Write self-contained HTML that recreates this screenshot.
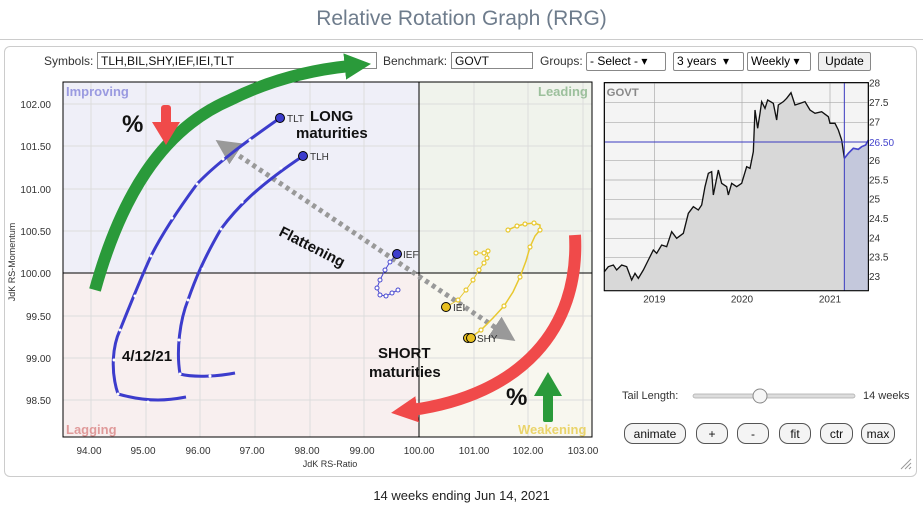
<!DOCTYPE html>
<html><head><meta charset="utf-8"><style>
body{margin:0;width:923px;height:508px;background:#fff;font-family:"Liberation Sans",Arial,sans-serif;position:relative;overflow:hidden}
.a{position:absolute}
.inp{position:absolute;border:1px solid #888;background:#fff;font-size:12px;height:17px;line-height:17px;padding-left:3px;box-sizing:border-box;color:#111}
.sel{position:absolute;border:1px solid #888;background:#fff;font-size:12px;height:19px;line-height:17px;padding-left:3px;box-sizing:border-box;border-radius:2px}
.lbl{position:absolute;font-size:12px;color:#333}
.btn{position:absolute;top:423px;height:21px;border:1px solid #555;border-radius:9px;background:#f4f4f4;font-size:12px;text-align:center;line-height:20px;box-sizing:border-box;color:#111}
</style></head><body>
<div class="a" style="left:0;top:0;width:923px;height:40px;text-align:center;font-size:21px;color:#6e7c8c;line-height:38px">Relative Rotation Graph (RRG)</div>
<div class="a" style="left:0;top:39px;width:923px;height:1px;background:#ccc"></div>
<div class="a" style="left:4px;top:46px;width:911px;height:429px;border:1px solid #ccc;border-radius:6px;background:#fff"></div>
<div class="lbl" style="left:44px;top:54px">Symbols:</div>
<div class="inp" style="left:97px;top:52px;width:280px">TLH,BIL,SHY,IEF,IEI,TLT</div>
<div class="lbl" style="left:383px;top:54px">Benchmark:</div>
<div class="inp" style="left:451px;top:52px;width:82px">GOVT</div>
<div class="lbl" style="left:540px;top:54px">Groups:</div>
<div class="sel" style="left:586px;top:52px;width:80px">- Select - ▾</div>
<div class="sel" style="left:673px;top:52px;width:71px">3 years &nbsp;▾</div>
<div class="sel" style="left:747px;top:52px;width:64px">Weekly ▾</div>
<div class="sel" style="left:818px;top:52px;width:53px;text-align:center;background:#f0f0f0;padding:0">Update</div>
<div class="lbl" style="left:622px;top:390px;font-size:11px">Tail Length:</div>
<div class="lbl" style="left:863px;top:390px;font-size:11px">14 weeks</div>
<div class="btn" style="left:624px;width:62px">animate</div>
<div class="btn" style="left:696px;width:32px">+</div>
<div class="btn" style="left:737px;width:32px">-</div>
<div class="btn" style="left:779px;width:32px">fit</div>
<div class="btn" style="left:820px;width:33px">ctr</div>
<div class="btn" style="left:861px;width:34px">max</div>
<div class="a" style="left:0;top:488px;width:923px;text-align:center;font-size:13px;color:#222">14 weeks ending Jun 14, 2021</div>

<svg class="a" style="left:0;top:0" width="923" height="508" font-family="Liberation Sans, Arial, sans-serif">
<defs>
<marker id="gh" viewBox="0 0 10 10" refX="2" refY="5" markerWidth="2.2" markerHeight="2.6" orient="auto"><path d="M0,0L10,5L0,10z" fill="#2a9a3a"/></marker>
<marker id="rh" viewBox="0 0 10 10" refX="2" refY="5" markerWidth="2.2" markerHeight="2.6" orient="auto"><path d="M0,0L10,5L0,10z" fill="#f04a4a"/></marker>
<marker id="ah" viewBox="0 0 10 10" refX="5" refY="5" markerWidth="5" markerHeight="5" orient="auto"><path d="M0,0L10,5L0,10z" fill="#999"/></marker>
<marker id="ah2" viewBox="0 0 10 10" refX="5" refY="5" markerWidth="5" markerHeight="5" orient="auto-start-reverse"><path d="M0,0L10,5L0,10z" fill="#999"/></marker>
</defs>
<rect x="63" y="82" width="356" height="191" fill="#efeff8"/>
<rect x="419" y="82" width="173" height="191" fill="#f0f3ec"/>
<rect x="63" y="273" width="356" height="164" fill="#f8efef"/>
<rect x="419" y="273" width="173" height="164" fill="#f8f7ef"/>
<g stroke="#dcdcdc" stroke-width="1">
<line x1="91" y1="82" x2="91" y2="437"/><line x1="146" y1="82" x2="146" y2="437"/><line x1="200" y1="82" x2="200" y2="437"/><line x1="255" y1="82" x2="255" y2="437"/><line x1="310" y1="82" x2="310" y2="437"/><line x1="364" y1="82" x2="364" y2="437"/><line x1="474" y1="82" x2="474" y2="437"/><line x1="528" y1="82" x2="528" y2="437"/><line x1="583" y1="82" x2="583" y2="437"/>
<line x1="63" y1="104" x2="592" y2="104"/><line x1="63" y1="146" x2="592" y2="146"/><line x1="63" y1="189" x2="592" y2="189"/><line x1="63" y1="231" x2="592" y2="231"/><line x1="63" y1="316" x2="592" y2="316"/><line x1="63" y1="358" x2="592" y2="358"/><line x1="63" y1="400" x2="592" y2="400"/>
</g>
<line x1="419" y1="82" x2="419" y2="437" stroke="#000"/>
<line x1="63" y1="273" x2="592" y2="273" stroke="#000"/>
<rect x="63" y="82" width="529" height="355" fill="none" stroke="#000"/>
<g font-size="10" fill="#333" text-anchor="end">
<text x="51" y="108">102.00</text><text x="51" y="150">101.50</text><text x="51" y="193">101.00</text><text x="51" y="235">100.50</text><text x="51" y="277">100.00</text><text x="51" y="320">99.50</text><text x="51" y="362">99.00</text><text x="51" y="404">98.50</text>
</g>
<g font-size="10" fill="#333" text-anchor="middle">
<text x="89" y="454">94.00</text><text x="143" y="454">95.00</text><text x="198" y="454">96.00</text><text x="252" y="454">97.00</text><text x="307" y="454">98.00</text><text x="362" y="454">99.00</text><text x="419" y="454">100.00</text><text x="474" y="454">101.00</text><text x="528" y="454">102.00</text><text x="583" y="454">103.00</text>
<text x="330" y="467" font-size="9">JdK RS-Ratio</text>
</g>
<text transform="translate(15,262) rotate(-90)" font-size="9" fill="#333" text-anchor="middle">JdK RS-Momentum</text>
<g font-size="13" font-weight="bold">
<text x="66" y="96" fill="#9a9ae0">Improving</text>
<text x="538" y="96" fill="#9cc09c">Leading</text>
<text x="66" y="434" fill="#e09a9a">Lagging</text>
<text x="518" y="434" fill="#ead46a">Weakening</text>
</g>
<line x1="226" y1="147" x2="505" y2="334" stroke="#999" stroke-width="5" stroke-dasharray="4,4" marker-start="url(#ah2)" marker-end="url(#ah)"/>
<path fill="none" stroke="#3c3ccc" stroke-width="3" stroke-linejoin="round" d="M186,397 C170,400 150,403 118,394 C110,370 113,345 120,330 C128,310 140,280 151,256 C160,238 172,218 197,184 C215,165 240,146 280,118"/>
<path fill="none" stroke="#3c3ccc" stroke-width="3" stroke-linejoin="round" d="M235,373 C220,376 195,378 180,374 C176,350 180,320 188,300 C195,280 203,260 221,229 C235,210 255,188 303,156"/>
<g fill="#fff">
<circle cx="148" cy="402" r="1.5"/><circle cx="118" cy="394" r="1.5"/><circle cx="114" cy="360" r="1.5"/><circle cx="120" cy="330" r="1.5"/><circle cx="135" cy="296" r="1.5"/><circle cx="151" cy="256" r="1.5"/><circle cx="172" cy="218" r="1.5"/><circle cx="197" cy="184" r="1.5"/><circle cx="223" cy="159" r="1.5"/><circle cx="250" cy="140" r="1.5"/>
<circle cx="210" cy="376" r="1.5"/><circle cx="180" cy="374" r="1.5"/><circle cx="179" cy="340" r="1.5"/><circle cx="188" cy="300" r="1.5"/><circle cx="203" cy="269" r="1.5"/><circle cx="221" cy="229" r="1.5"/><circle cx="242" cy="202" r="1.5"/><circle cx="262" cy="182" r="1.5"/><circle cx="281" cy="168" r="1.5"/>
</g>
<circle cx="280" cy="118" r="4.5" fill="#3c3ccc" stroke="#000"/>
<circle cx="303" cy="156" r="4.5" fill="#3c3ccc" stroke="#000"/>
<polyline fill="none" stroke="#4848d0" stroke-width="1" points="397,254 390,262 385,270 380,280 377,288 380,295 386,296 392,293 398,290"/>
<g fill="#fff" stroke="#4848d0" stroke-width="1"><circle cx="390" cy="262" r="2"/><circle cx="385" cy="270" r="2"/><circle cx="380" cy="280" r="2"/><circle cx="377" cy="288" r="2"/><circle cx="380" cy="295" r="2"/><circle cx="386" cy="296" r="2"/><circle cx="392" cy="293" r="2"/><circle cx="398" cy="290" r="2"/></g>
<circle cx="397" cy="254" r="4.5" fill="#3c3ccc" stroke="#000"/>
<polyline fill="none" stroke="#e8c830" stroke-width="1" points="446,307 458,300 466,290 473,280 479,270 484,263 487,258 488,251 484,253 476,253"/>
<g fill="#fff" stroke="#e8c830" stroke-width="1.2"><circle cx="458" cy="300" r="2"/><circle cx="466" cy="290" r="2"/><circle cx="473" cy="280" r="2"/><circle cx="479" cy="270" r="2"/><circle cx="484" cy="263" r="2"/><circle cx="487" cy="258" r="2"/><circle cx="488" cy="251" r="2"/><circle cx="484" cy="253" r="2"/><circle cx="476" cy="253" r="2"/></g>
<circle cx="446" cy="307" r="4.5" fill="#e8c020" stroke="#000"/>
<polyline fill="none" stroke="#e8c830" stroke-width="1.5" points="470,338 481,330 493,318 504,306 513,292 520,277 526,261 530,247 535,236 540,230 540,225 534,223 525,224 517,226 508,230"/>
<g fill="#fff" stroke="#e8c830" stroke-width="1.2"><circle cx="481" cy="330" r="2"/><circle cx="504" cy="306" r="2"/><circle cx="520" cy="277" r="2"/><circle cx="530" cy="247" r="2"/><circle cx="540" cy="230" r="2"/><circle cx="534" cy="223" r="2"/><circle cx="525" cy="224" r="2"/><circle cx="517" cy="226" r="2"/><circle cx="508" cy="230" r="2"/></g>
<circle cx="468" cy="338" r="4.5" fill="#e8c020" stroke="#000"/>
<circle cx="471" cy="338" r="4.5" fill="#e8c020" stroke="#000"/>
<g font-size="10" fill="#333"><text x="287" y="122">TLT</text><text x="310" y="160">TLH</text><text x="403" y="258">IEF</text><text x="453" y="311">IEI</text><text x="477" y="342">SHY</text></g>
<path d="M95,290 C120,200 160,130 230,100 C270,80 310,70 350,66" fill="none" stroke="#2a9a3a" stroke-width="12" marker-end="url(#gh)"/>
<path d="M575,235 C580,330 520,395 412,410" fill="none" stroke="#f04a4a" stroke-width="12" marker-end="url(#rh)"/>
<rect x="161" y="105" width="10" height="22" fill="#f04a4a" rx="3"/><path d="M152,122 L180,122 L166,145 z" fill="#f04a4a"/>
<rect x="543" y="392" width="10" height="30" fill="#2a9a3a" rx="2"/><path d="M534,396 L562,396 L548,372 z" fill="#2a9a3a"/>
<g font-weight="bold" fill="#111">
<text x="122" y="132" font-size="24">%</text>
<text x="506" y="405" font-size="24">%</text>
<text x="310" y="121" font-size="15">LONG</text>
<text x="296" y="138" font-size="15">maturities</text>
<text x="378" y="358" font-size="15">SHORT</text>
<text x="369" y="377" font-size="15">maturities</text>
<text x="122" y="361" font-size="15">4/12/21</text>
<text transform="translate(278,235) rotate(27)" font-size="15">Flattening</text>
</g>
<rect x="693" y="394" width="162" height="4" rx="2" fill="#ddd" stroke="#aaa" stroke-width="0.7"/>
<circle cx="760" cy="396" r="7" fill="#f6f6f6" stroke="#888"/>
<path d="M901,469 L911,459 M905,469 L911,463 M909,469 L911,467" stroke="#999"/>
<svg x="595" y="70" width="328" height="240" viewBox="0 0 984 720">
<rect x="28" y="38" width="792" height="624" fill="#f4f4f4" stroke="#000" stroke-width="3"/>
<g stroke="#aaa" stroke-width="2">
<line x1="178" y1="38" x2="178" y2="662"/><line x1="441" y1="38" x2="441" y2="662"/><line x1="705" y1="38" x2="705" y2="662"/>
<line x1="28" y1="98" x2="820" y2="98"/><line x1="28" y1="157" x2="820" y2="157"/><line x1="28" y1="272" x2="820" y2="272"/><line x1="28" y1="330" x2="820" y2="330"/><line x1="28" y1="389" x2="820" y2="389"/><line x1="28" y1="447" x2="820" y2="447"/><line x1="28" y1="505" x2="820" y2="505"/><line x1="28" y1="563" x2="820" y2="563"/><line x1="28" y1="620" x2="820" y2="620"/>
</g>
<polygon fill="#d8d8d8" points="28,662 28,605 40,590 55,585 65,600 80,585 95,590 110,630 120,610 130,625 145,600 160,570 175,540 185,550 200,525 215,530 230,485 245,505 265,490 280,430 295,410 310,420 320,405 330,350 340,310 350,305 355,375 370,300 380,340 395,350 400,375 410,340 425,350 440,340 455,290 465,295 475,245 480,120 488,175 495,130 500,95 510,115 518,90 535,100 545,150 550,105 565,95 575,85 588,68 600,105 615,100 630,95 645,120 660,130 680,125 700,140 705,160 720,160 730,180 740,210 748,265 748,662"/>
<polygon fill="#c4c8dc" points="748,662 748,265 760,250 775,235 790,238 800,230 812,225 820,210 820,662"/>
<polyline fill="none" stroke="#111" stroke-width="4" points="28,605 40,590 55,585 65,600 80,585 95,590 110,630 120,610 130,625 145,600 160,570 175,540 185,550 200,525 215,530 230,485 245,505 265,490 280,430 295,410 310,420 320,405 330,350 340,310 350,305 355,375 370,300 380,340 395,350 400,375 410,340 425,350 440,340 455,290 465,295 475,245 480,120 488,175 495,130 500,95 510,115 518,90 535,100 545,150 550,105 565,95 575,85 588,68 600,105 615,100 630,95 645,120 660,130 680,125 700,140 705,160 720,160 730,180 740,210 748,265"/>
<polyline fill="none" stroke="#4444cc" stroke-width="5" points="748,265 760,250 775,235 790,238 800,230 812,225 820,210"/>
<line x1="748" y1="38" x2="748" y2="662" stroke="#3a3ac0" stroke-width="3"/>
<line x1="28" y1="216" x2="820" y2="216" stroke="#3a3ac0" stroke-width="3"/>
<rect x="28" y="38" width="792" height="624" fill="none" stroke="#000" stroke-width="3"/>
<text x="35" y="78" font-size="34" font-weight="bold" fill="#888">GOVT</text>
<g font-size="30" fill="#333">
<text x="822" y="50">28</text><text x="822" y="108">27.5</text><text x="822" y="166">27</text><text x="822" y="282">26</text><text x="822" y="340">25.5</text><text x="822" y="398">25</text><text x="822" y="456">24.5</text><text x="822" y="514">24</text><text x="822" y="572">23.5</text><text x="822" y="630">23</text>
<text x="822" y="228" fill="#4444cc">26.50</text>
<text x="178" y="697" text-anchor="middle">2019</text><text x="441" y="697" text-anchor="middle">2020</text><text x="705" y="697" text-anchor="middle">2021</text>
</g>
</svg>
</svg>
</body></html>
